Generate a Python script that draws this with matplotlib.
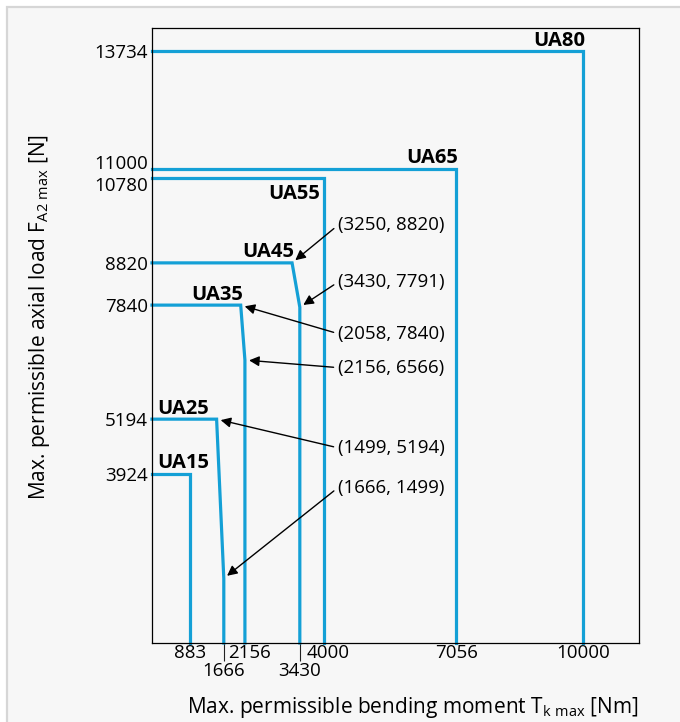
import matplotlib.pyplot as plt
import matplotlib as mpl
from matplotlib.patches import Rectangle
from matplotlib.transforms import ScaledTranslation

plt.rcParams['font.family'] = ['Open Sans', 'DejaVu Sans']
plt.rcParams['mathtext.fontset'] = 'custom'
plt.rcParams['mathtext.rm'] = 'Open Sans'
plt.rcParams['mathtext.it'] = 'Open Sans'

# data
models = ['UA15', 'UA25', 'UA35', 'UA45', 'UA55', 'UA65', 'UA80']
f_max = [3924, 5194, 7840, 8820, 10780, 11000, 13734]     # axial load plateau [N]
t_knee = [883, 1499, 2058, 3250, 4000, 7056, 10000]       # end of plateau [Nm]
t_max = [883, 1666, 2156, 3430, 4000, 7056, 10000]        # max bending moment [Nm]
f_knee = [3924, 1499, 6566, 7791, 10780, 11000, 13734]    # load at end of slope [N]

x_ticks = [883, 2156, 4000, 7056, 10000]
x_ticks_low = [1666, 3430]     # second row labels
y_ticks = [3924, 5194, 7840, 8820, 10780, 11000, 13734]

callouts = [(3250, 8820), (3430, 7791), (2058, 7840),
            (2156, 6566), (1499, 5194), (1666, 1499)]
callout_text_y = [9690, 8370, 7180, 6390, 4530, 3600]

blue = '#14a0d6'
fs = 13.5

fig = plt.figure(figsize=(6.8, 7.22), dpi=100, facecolor='white')
bg = Rectangle((7 / 680, -0.1), 1.2, 1.1 - 7 / 722,
               transform=fig.transFigure, facecolor='#f7f7f7',
               edgecolor='#d6d6d6', linewidth=1.6, zorder=-10)
fig.add_artist(bg)
ax = fig.add_axes([152 / 680, (722 - 643) / 722, 487 / 680, 615 / 722])
ax.set_facecolor('#f7f7f7')

for name, f, tk, tm, fk in zip(models, f_max, t_knee, t_max, f_knee):
    ax.plot([0, tk, tm, tm], [f, f, fk, 0], color=blue, lw=2.3,
            solid_joinstyle='miter', clip_on=False)
    if name in ('UA15', 'UA25'):
        ax.annotate(name, (0, f), xytext=(4, 4), textcoords='offset points',
                    ha='left', va='baseline', fontsize=14.5, fontweight='bold')
    elif name == 'UA55':
        ax.annotate(name, (tk, f), xytext=(-3, -15), textcoords='offset points',
                    ha='right', va='baseline', fontsize=14.5, fontweight='bold')
    else:
        ax.annotate(name, (tk, f), xytext=(1.5, 4), textcoords='offset points',
                    ha='right', va='baseline', fontsize=14.5, fontweight='bold')

for (px, py), ty in zip(callouts, callout_text_y):
    ax.annotate('(%d, %d)' % (px, py), xy=(px, py), xytext=(4310, ty),
                ha='left', va='center', fontsize=fs,
                arrowprops=dict(arrowstyle='-|>', color='black', lw=1.0,
                                mutation_scale=15, shrinkA=1, shrinkB=3,
                                relpos=(0, 0.5)))

ax.set_xlim(0, 11300)
ax.set_ylim(0, 14270)
ax.set_xticks(x_ticks)
ax.set_xticklabels([str(v) for v in x_ticks], fontsize=fs)
ax.set_xticks(x_ticks_low, minor=True)
ax.set_xticklabels([str(v) for v in x_ticks_low], minor=True, fontsize=fs)
ax.set_yticks(y_ticks)
ax.set_yticklabels([str(v) for v in y_ticks], fontsize=fs)
ax.tick_params(which='major', length=0, pad=3)
ax.tick_params(axis='x', which='major', pad=1)
ax.tick_params(axis='x', which='minor', length=13, width=0.8, pad=0.5,
               direction='out', color='#222222')

# spread the two close labels 11000 / 10780 apart
for lab in ax.get_yticklabels():
    if lab.get_text() == '11000':
        lab.set_transform(lab.get_transform() + ScaledTranslation(0, 5 / 72, fig.dpi_scale_trans))
    if lab.get_text() == '10780':
        lab.set_transform(lab.get_transform() + ScaledTranslation(0, -4 / 72, fig.dpi_scale_trans))
# labels right of their tick mark as in the drawing
for lab in ax.get_xticklabels():
    if lab.get_text() in ('2156', '4000'):
        lab.set_transform(lab.get_transform() + ScaledTranslation(3 / 72, 0, fig.dpi_scale_trans))

for s in ax.spines.values():
    s.set_linewidth(0.9)
    s.set_color('black')

ax.set_ylabel(r'Max. permissible axial load F$_{\mathrm{A2\ max}}$ [N]', fontsize=15)
ax.yaxis.set_label_coords(-0.205, 0.53)
ax.set_xlabel(r'Max. permissible bending moment T$_{\mathrm{k\ max}}$ [Nm]', fontsize=15, loc='right')
ax.xaxis.set_label_coords(1.0, -0.084)

plt.savefig('out.png', dpi=100, facecolor=fig.get_facecolor())
